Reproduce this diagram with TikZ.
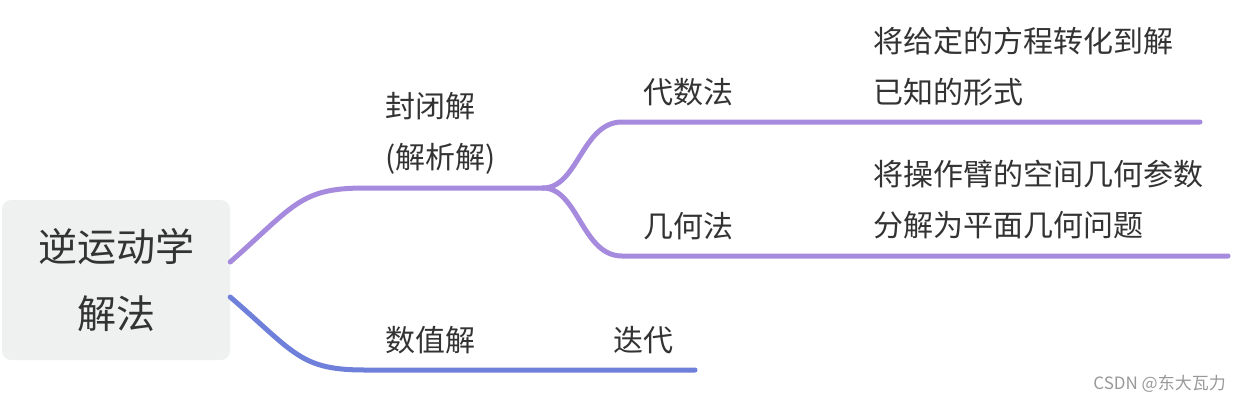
\documentclass[tikz,border=0pt]{standalone}
\usepackage{fontspec}
\setmainfont{Noto Sans CJK SC}
\definecolor{linepurple}{HTML}{A68ADE}
\definecolor{lineblue}{HTML}{6F80DA}
\definecolor{rootgray}{HTML}{EFF0F0}
\definecolor{textgray}{HTML}{333333}
\tikzset{branch/.style={line width=5pt, line cap=round, draw=linepurple},
	topic/.style={anchor=west, inner sep=0pt, text=textgray, align=left, font=\fontsize{30}{51}\selectfont}}

\begin{document}
\begin{tikzpicture}[x=1pt,y=-1pt,
			root/.style={rectangle, rounded corners=9pt, fill=rootgray, minimum width=228pt, minimum height=160pt,
				align=center, text=textgray, font=\fontsize{39}{67}\selectfont},
			watermark/.style={anchor=east, inner sep=0pt, text=black!40, font=\fontsize{17}{20}\selectfont}]
			\useasboundingbox (0,0) rectangle (1240,402);
			\node (root)[root] at (116,280) {逆运动学\\解法};
			
			% line ends
			\coordinate (closedL) at (365,188);
			\coordinate (fork) at (543,188);
			\coordinate (algL) at (622,122);
			\coordinate (algR) at (1200,122);
			\coordinate (geoL) at (622,256);
			\coordinate (geoR) at (1228,256);
			\coordinate (numL) at (365,370);
			\coordinate (numR) at (695,370);
			
			\node (closed)[topic] at (385,133) {封闭解\\(解析解)};
			\node (alg)[topic] at (643,92) {代数法};
			\node (geo)[topic] at (643,226) {几何法};
			\node (algtext)[topic] at (873,67) {将给定的方程转化到解\\已知的形式};
			\node (geotext)[topic] at (873,200) {将操作臂的空间几何参数\\分解为平面几何问题};
			\node (num)[topic] at (385,340) {数值解};
			\node (iter)[topic] at (613,340) {迭代};
			\node (wm)[watermark] at (1226,384) {CSDN @东大瓦力};
			
			\draw[branch] ([yshift=18pt]root.east) .. controls (295,205) and (300,188) .. (closedL) -- (fork);
			\draw[branch] (fork) .. controls (578,188) and (582,122) .. (algL) -- (algR);
			\draw[branch] (fork) .. controls (578,188) and (582,256) .. (geoL) -- (geoR);
			\draw[branch, draw=lineblue] ([yshift=-17pt]root.east) .. controls (295,353) and (300,370) .. (numL) -- (numR);
		\end{tikzpicture}
\end{document}
